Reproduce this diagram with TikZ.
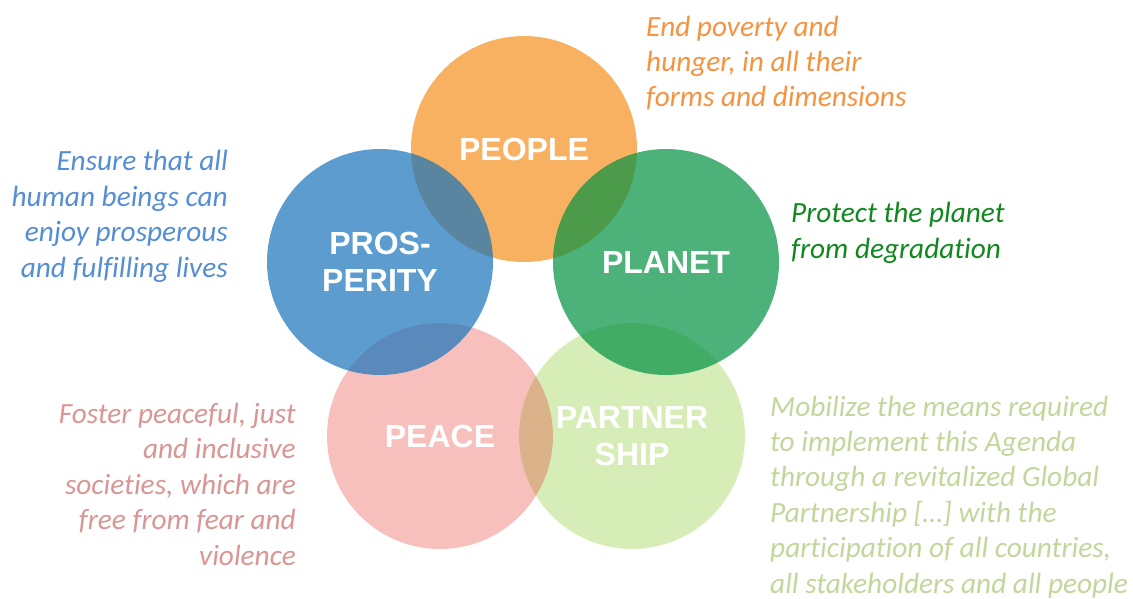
\documentclass[tikz,border=0pt]{standalone}
\usepackage{fontspec}
\setmainfont{Liberation Sans}
\newfontfamily\carl[Ligatures=NoCommon]{Carlito}
\definecolor{cOrange}{RGB}{248,177,96}
\definecolor{cBlue}{RGB}{24,115,188}
\definecolor{cGreen}{RGB}{2,146,65}
\definecolor{cPink}{RGB}{231,48,38}
\definecolor{cLime}{RGB}{215,237,184}
\definecolor{tOrange}{RGB}{245,147,64}
\definecolor{tBlue}{RGB}{85,142,213}
\definecolor{tGreen}{RGB}{17,136,30}
\definecolor{tPink}{RGB}{217,150,148}
\definecolor{tLime}{RGB}{195,214,155}
\tikzset{
  disc/.style={circle, minimum size=226pt, inner sep=0pt, draw=none},
  lab/.style={text=white, font=\bfseries\fontsize{32}{37.5}\selectfont, align=center, inner sep=0pt},
  desc/.style={font=\carl\itshape\fontsize{29.3}{35.4}\selectfont, inner sep=0pt},
}
\begin{document}
\begin{tikzpicture}[x=1pt,y=-1pt]
\useasboundingbox (0,0) rectangle (1133,599);
\fill[white] (0,0) rectangle (1133,599);
% circles
\node[disc, fill=cOrange] (people) at (524,149) {};
\node[disc, fill=cLime] (partner) at (632,436) {};
\node[disc, fill=cPink, fill opacity=0.3] (peace) at (440,436) {};
\node[disc, fill=cBlue, fill opacity=0.7] (prosp) at (380,262) {};
\node[disc, fill=cGreen, fill opacity=0.7] (planet) at (666,262) {};
% labels
\node[lab] (peopleL) at (people.center) {PEOPLE};
\node[lab] (prospL) at (prosp.center) {PROS-\\PERITY};
\node[lab] (planetL) at (planet.center) {PLANET};
\node[lab] (peaceL) at (peace.center) {PEACE};
\node[lab] (partnerL) at (partner.center) {PARTNER\\SHIP};
% descriptions (anchored at baseline of last line)
\node[desc, text=tOrange, align=left, anchor=base west] (peopleD) at (646,107)
  {End poverty and\\hunger, in all their\\forms and dimensions};
\node[desc, text=tBlue, align=right, anchor=base east] (prospD) at (228,277)
  {Ensure that all\\human beings can\\enjoy prosperous\\and fulfilling lives};
\node[desc, text=tGreen, align=left, anchor=base west] (planetD) at (791,258)
  {Protect the planet\\from degradation};
\node[desc, text=tPink, align=right, anchor=base east] (peaceD) at (296,565)
  {Foster peaceful, just\\and inclusive\\societies, which are\\free from fear and\\violence};
\node[desc, text=tLime, align=left, anchor=base west] (partnerD) at (770,593)
  {Mobilize the means required\\to implement this Agenda\\through a revitalized Global\\Partnership […] with the\\participation of all countries,\\all stakeholders and all people};
\end{tikzpicture}
\end{document}
